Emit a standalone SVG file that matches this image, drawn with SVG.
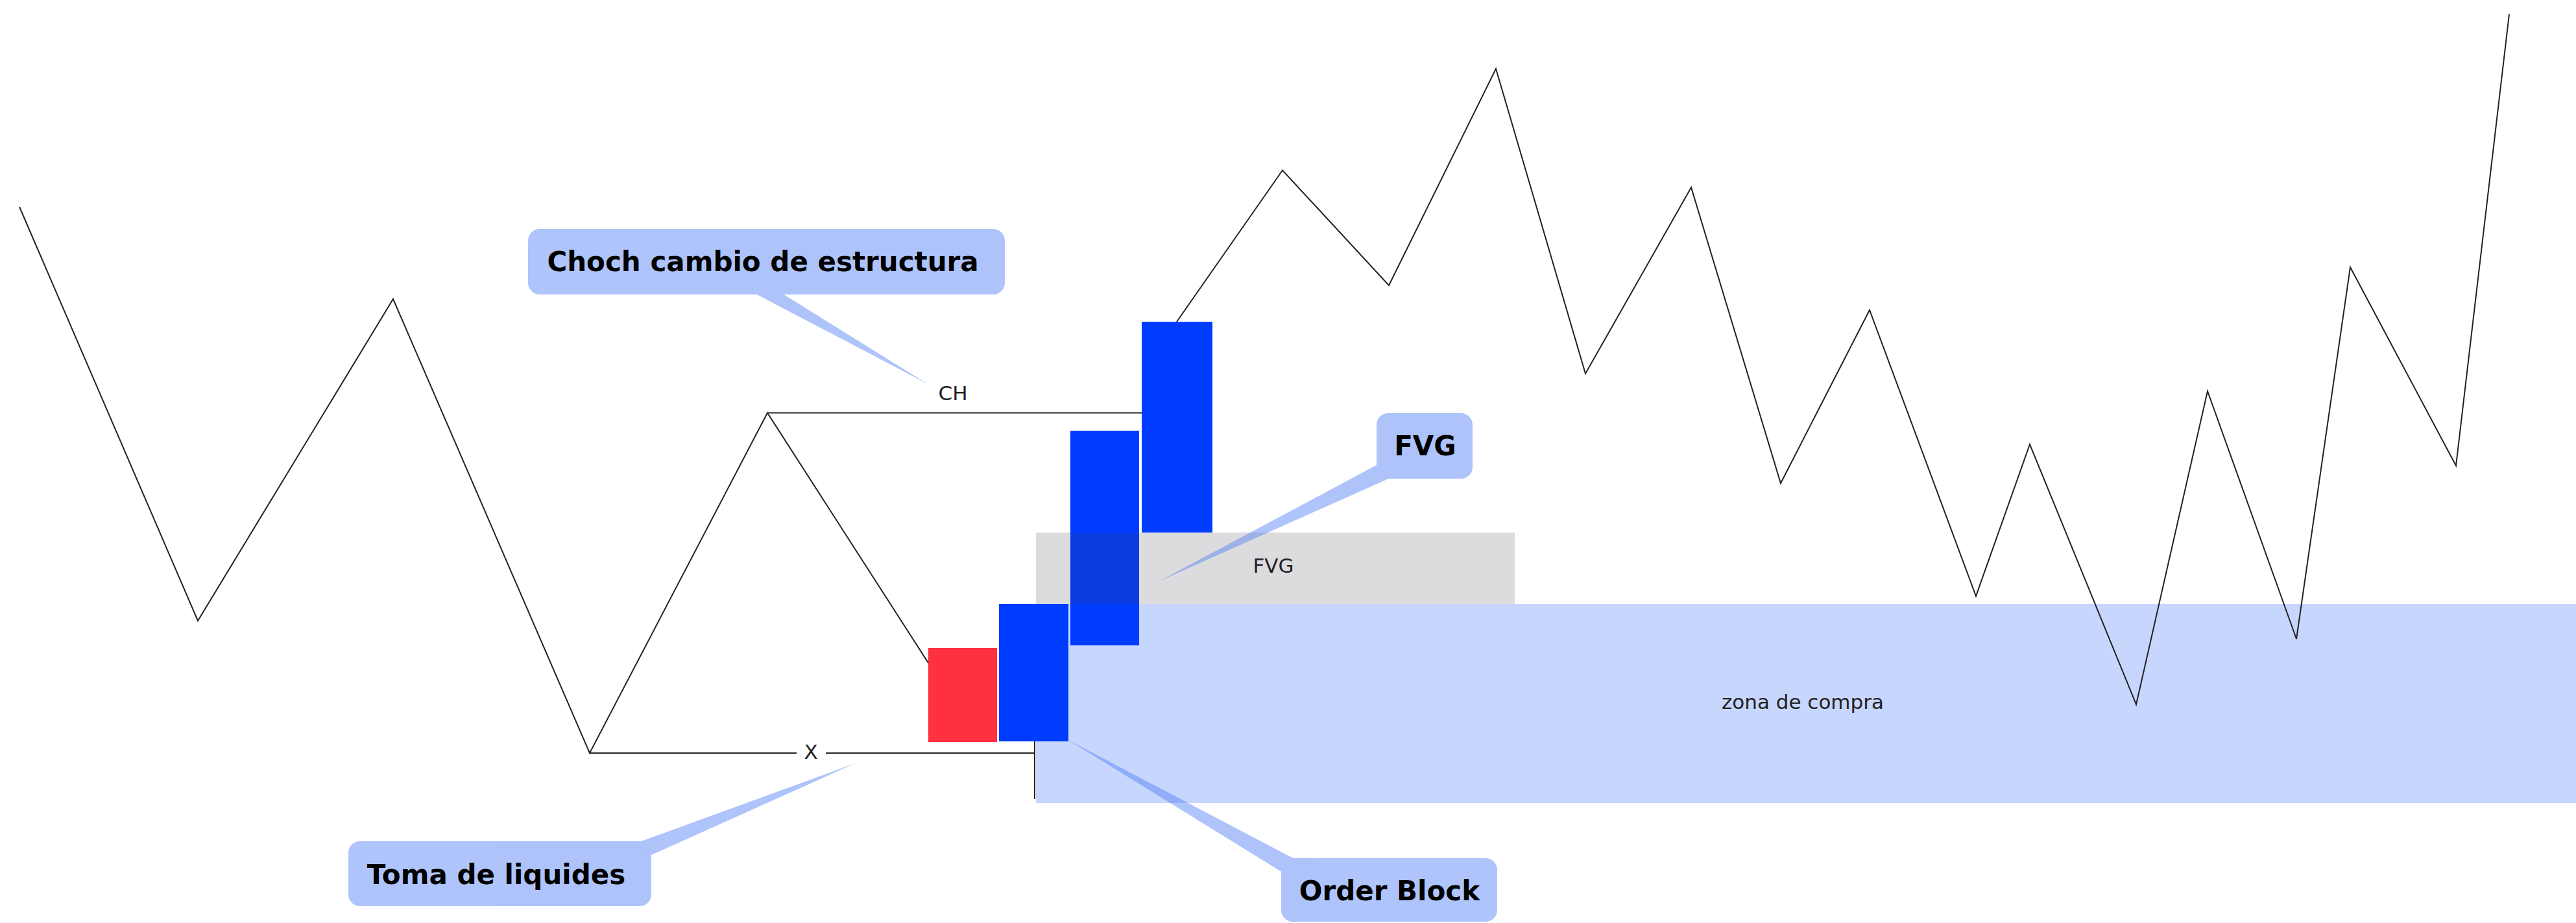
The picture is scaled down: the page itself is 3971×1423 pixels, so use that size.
<svg xmlns="http://www.w3.org/2000/svg" width="3971" height="1423" viewBox="0 0 3971 1423">
<style>
.ln{fill:none;stroke:#222;stroke-width:2;stroke-linejoin:miter}
.lbl{font-family:"DejaVu Sans","Liberation Sans",sans-serif;font-size:31px;fill:#222;text-anchor:middle}
.co{font-family:"DejaVu Sans","Liberation Sans",sans-serif;font-size:42px;font-weight:bold;fill:#000;text-anchor:middle}
.cof{fill:#4b7cf4}
.blue{fill:#003cff}
</style>
<rect width="3971" height="1423" fill="#fff"/>
<g id="zona-compra">
<rect x="1597" y="931" width="2374" height="307" fill="#c7d6fd"/>
<text class="lbl" x="2779" y="1093">zona de compra</text>
</g>
<g id="candles">
<rect id="vela-roja" x="1431" y="999" width="106" height="145" fill="#ff3040"/>
<rect id="vela-azul-1" class="blue" x="1540" y="931" width="107" height="212"/>
<rect id="vela-azul-2" class="blue" x="1650" y="664" width="106" height="331"/>
<rect id="vela-azul-3" class="blue" x="1760" y="496" width="109" height="325"/>
</g>
<g id="fvg-zona">
<rect x="1597" y="821" width="738" height="110" fill="rgb(60,60,80)" fill-opacity="0.18"/>
<text class="lbl" x="1963" y="883">FVG</text>
</g>
<g id="connectors">
<polyline class="ln" points="30,319 305,957 606,461 909,1161 1183,636.5 1431,1022"/>
<line class="ln" x1="1183" y1="636.5" x2="1760" y2="636.5"/>
<line class="ln" x1="909" y1="1161" x2="1228" y2="1161"/>
<line class="ln" x1="1273" y1="1161" x2="1595" y2="1161"/>
<line class="ln" x1="1595" y1="1143" x2="1595" y2="1232"/>
<polyline class="ln" points="1814,496 1977,262.5 2141,440 2306,106 2444,576 2607,289 2745,745 2882,478 3046,919 3129,685 3293,1086 3403,603 3540,985 3623,412 3786,718 3868,22"/>
</g>
<g id="ch-label"><text class="lbl" x="1469" y="617">CH</text></g>
<g id="x-label"><text class="lbl" x="1250" y="1170">X</text></g>
<g id="callout-choch">
<g opacity="0.45">
<rect class="cof" x="814" y="353" width="735" height="101" rx="18"/>
<polygon class="cof" points="1163,452 1205,452 1430,592"/>
</g>
<text class="co" x="1176" y="418">Choch cambio de estructura</text>
</g>
<g id="callout-fvg">
<g opacity="0.45">
<rect class="cof" x="2122" y="637" width="148" height="101" rx="18"/>
<polygon class="cof" points="2124,716 2145,736 1787,896"/>
</g>
<text class="co" x="2197" y="702">FVG</text>
</g>
<g id="callout-toma">
<g opacity="0.45">
<rect class="cof" x="537" y="1297" width="467" height="100" rx="18"/>
<polygon class="cof" points="983,1299 1002,1319 1318,1177"/>
</g>
<text class="co" x="765" y="1363">Toma de liquides</text>
</g>
<g id="callout-order-block">
<g opacity="0.45">
<rect class="cof" x="1975" y="1323" width="333" height="98" rx="18"/>
<polygon class="cof" points="1997,1325 1977,1345 1647,1141"/>
</g>
<text class="co" x="2142" y="1388">Order Block</text>
</g>
</svg>
